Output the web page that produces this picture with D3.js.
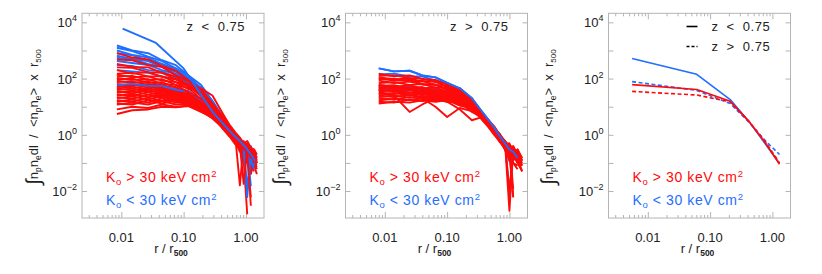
<!DOCTYPE html>
<html><head><meta charset="utf-8">
<script src="https://cdn.jsdelivr.net/npm/d3@7"></script>
<style>
body{margin:0;background:#fff}
text{font-family:"Liberation Sans",Arial,Helvetica,sans-serif}
</style>
</head><body>
<svg id="c" width="822" height="274"></svg>
<script>
// ---------- tick labels ----------
const xTicks = [0.01, 0.1, 1];
const xTickLabels = ["0.01", "0.10", "1.00"];
const yLabelTicks = [1e-2, 1, 1e2, 1e4];
const yLabelExps = ["\u22122", "0", "2", "4"];
const yDecadeTicks = [1e-2, 1e-1, 1, 1e1, 1e2, 1e3, 1e4];

// ---------- panel 1 : z < 0.75 ----------
const p1Radii = [0.0085, 0.015, 0.027, 0.045, 0.075, 0.12, 0.19, 0.29, 0.42, 0.55, 0.68, 0.8, 0.92, 1.05, 1.2, 1.35, 1.5];
const p1Red = [
 [800, 560, 480, 280, 190, 85, 42, 13, 4.6, 2.0, 1.1, 0.7, 0.45, 0.5, 0.25, 0.3, null],
 [480, 450, 300, 260, 130, 80, 30, 12, 4.0, 1.8, 0.9, 0.5, 0.6, 0.3, 0.35, 0.15, null],
 [330, 260, 250, 160, 120, 55, 33, 10, 3.5, 1.6, 1.0, 0.55, 0.35, 0.4, 0.2, 0.25, 0.12],
 [250, 240, 170, 160, 95, 62, 25, 11, 3.3, 1.7, 0.8, 0.6, 0.4, 0.2, 0.3, 0.1, null],
 [200, 150, 170, 115, 95, 50, 30, 9, 3.7, 1.5, 0.9, 0.45, 0.5, 0.3, 0.2, 0.15, 0.1],
 [150, 160, 120, 120, 75, 55, 24, 10, 3.2, 1.6, 0.85, 0.5, 0.3, 0.35, 0.15, 0.2, null],
 [140, 110, 120, 85, 75, 42, 45, 25, 6, 2.2, 1.2, 0.8, 0.5, 0.6, 0.35, 0.3, 0.2],
 [120, 125, 90, 95, 60, 45, 19, 9, 3.0, 1.5, 0.7, 0.4, 0.018, 0.35, 0.25, 0.12, null],
 [105, 90, 95, 65, 60, 32, 20, 7, 3.1, 1.4, 0.9, 0.6, 0.4, 0.25, 0.003, null, null],
 [95, 100, 70, 75, 48, 36, 15, 7.5, 2.7, 1.3, 0.6, 0.45, 0.3, 0.2, 0.15, 0.1, 0.08],
 [85, 70, 80, 55, 50, 27, 17, 6.5, 2.9, 1.5, 0.95, 0.7, 0.5, 0.4, 0.25, 0.3, 0.15],
 [75, 80, 60, 62, 38, 30, 14, 7, 2.5, 1.2, 0.7, 0.35, 0.4, 0.15, 0.2, 0.08, null],
 [65, 55, 64, 45, 42, 24, 15.5, 5.8, 2.6, 1.4, 0.8, 0.5, 0.35, 0.3, 0.12, 0.2, 0.1],
 [60, 62, 48, 50, 32, 27, 12.5, 6.5, 2.3, 1.1, 0.6, 0.3, 0.25, 0.12, 0.1, null, null],
 [55, 45, 55, 40, 38, 21, 14, 5.5, 2.6, 1.3, 0.7, 0.016, 0.5, 0.3, 0.2, 0.15, 0.1],
 [50, 52, 40, 44, 28, 24, 11, 6, 2.2, 1.2, 0.75, 0.45, 0.3, 0.25, 0.15, 0.1, 0.06],
 [45, 38, 46, 34, 33, 18, 13, 5.2, 2.5, 1.4, 0.85, 0.6, 0.4, 0.45, 0.25, 0.2, null],
 [40, 44, 33, 38, 24, 22, 10, 5.8, 2.1, 1.1, 0.6, 0.35, 0.15, 0.1, 0.05, 0.15, null],
 [36, 30, 40, 28, 29, 16, 12, 5, 2.4, 1.2, 0.7, 0.5, 0.3, 0.22, 0.12, 0.08, 0.04],
 [32, 36, 27, 33, 21, 20, 9.5, 5.5, 2.0, 1.0, 0.55, 0.4, 0.3, 0.35, 0.25, 0.12, null],
 [28, 24, 33, 24, 26, 14, 11.5, 4.6, 2.3, 1.2, 0.8, 0.5, 0.25, 0.18, 0.006, null, null],
 [25, 29, 22, 28, 18, 18, 9, 5.2, 1.9, 1.0, 0.5, 0.3, 0.35, 0.2, 0.1, 0.09, 0.07],
 [22, 19, 27, 20, 23, 13, 11, 4.4, 2.2, 1.1, 0.6, 0.45, 0.3, 0.3, 0.15, 0.1, 0.09],
 [20, 23, 18, 24, 16, 16.5, 8.5, 5, 1.9, 0.95, 0.55, 0.25, 0.2, 0.14, 0.2, 0.1, null],
 [17, 15, 21, 16, 20, 12, 10, 4.2, 2.1, 1.0, 0.5, 0.35, 0.2, 0.2, 0.08, 0.05, null],
 [15, 18, 14, 20, 14, 15, 8, 4.8, 1.8, 0.9, 0.6, 0.4, 0.3, 0.25, 0.14, 0.12, null],
 [13, 12, 17, 13, 17, 11, 9.5, 4, 2.0, 1.0, 0.5, 0.3, 0.16, 0.12, 0.1, 0.06, null],
 [12, 14, 12, 16, 12, 13, 7.5, 4.5, 1.7, 0.85, 0.45, 0.35, 0.22, 0.3, 0.04, 0.12, null],
 [8, 10, 9, 12, 10, 11, 7, 3.8, 1.8, 0.9, 0.5, 0.35, 0.2, 0.1, 0.06, null, null],
 [5.5, 7.5, 8, 10, 9.5, 10.5, 6.5, 4.2, 1.9, 0.95, 0.55, 0.4, 0.12, 0.0015, null, null, null]
];
const p1Blue = [
 [1500, 1000, 800, 450, 300, 130, 60, 16, 4.8, 2.1, 1.1, 0.7, 0.5, 0.4, 0.3, 0.2, null],
 [1250, 950, 600, 420, 230, 125, 45, 16, 4.2, 1.8, 0.9, 0.55, 0.3, 0.006, 0.25, 0.3, null],
 [1000, 700, 560, 330, 220, 100, 48, 13, 4.0, 1.9, 1.0, 0.6, 0.45, 0.35, 0.25, 0.15, 0.1],
 [800, 680, 430, 330, 180, 105, 38, 14.5, 3.8, 1.7, 0.8, 0.5, 0.35, 0.2, 0.4, 0.08, null],
 [650, 500, 420, 260, 175, 85, 40, 12, 4.1, 1.8, 1.0, 0.6, 0.4, 0.012, 0.3, 0.2, null],
 [550, 480, 330, 260, 145, 90, 33, 13, 3.6, 1.6, 0.85, 0.5, 0.3, 0.25, 0.15, 0.1, null],
 [420, 360, 300, 200, 145, 72, 36, 11, 3.7, 1.7, 0.9, 0.65, 0.5, 0.35, 0.3, 0.2, 0.18],
 [300, 280, 200, 180, 110, 70, 28, 11.5, 3.4, 1.6, 0.8, 0.45, 0.3, 0.2, 0.1, 0.3, null],
 [200, 180, 160, 120, 95, 52, 30, 9.5, 3.5, 1.5, 0.9, 0.6, 0.4, 0.3, 0.015, null, null],
 [60, 65, 55, 55, 40, 34, 18, 9, 3.1, 1.6, 0.85, 0.5, 0.35, 0.28, 0.12, 0.06, null]
];
const p1BlueTopRadii = [0.0105, 0.036, 0.1, 0.14, 0.2, 0.3, 0.45, 0.6, 0.8, 1.0, 1.2, 1.4];
const p1BlueTop = [6000, 1850, 230, 75, 22, 6, 2.2, 1.1, 0.6, 0.35, 0.2, 0.12];

// ---------- panel 2 : z > 0.75 ----------
const p2Radii = [0.008, 0.014, 0.025, 0.04, 0.065, 0.1, 0.16, 0.25, 0.35, 0.45, 0.57, 0.7, 0.85, 1.0, 1.15, 1.35, 1.6];
const p2Red = [
 [150, 120, 130, 95, 90, 60, 45, 18, 7, 3.6, 2.0, 1.0, 0.6, 0.35, 0.4, 0.2, null],
 [125, 130, 105, 100, 75, 65, 36, 20, 6.5, 3.3, 1.8, 0.8, 0.45, 0.5, 0.25, 0.3, 0.15],
 [110, 95, 100, 80, 78, 50, 38, 15, 6.8, 3.5, 1.6, 1.1, 0.5, 0.002, 0.3, 0.2, null],
 [100, 85, 90, 65, 62, 40, 26, 14, 5.8, 3.0, 1.5, 0.95, 0.55, 0.4, 0.3, 0.2, null],
 [95, 100, 80, 82, 60, 55, 30, 17, 6, 3.1, 1.7, 0.9, 0.4, 0.3, 0.12, 0.2, 0.08],
 [85, 70, 78, 62, 60, 42, 33, 13, 6.3, 3.4, 1.5, 0.7, 0.55, 0.25, 0.006, null, null],
 [70, 75, 60, 64, 48, 46, 26, 15, 5.6, 2.9, 1.9, 1.0, 0.6, 0.4, 0.35, 0.15, 0.1],
 [60, 50, 58, 45, 48, 34, 29, 11.5, 6, 3.1, 1.4, 0.8, 0.35, 0.2, 0.25, 0.1, null],
 [60, 50, 40, 30, 22, 15, 8, 3.3, 4.2, 2.5, 1.3, 0.7, 0.45, 0.3, 0.2, 0.15, 0.05],
 [55, 58, 45, 50, 36, 38, 22, 13, 5.2, 2.8, 1.6, 0.9, 0.5, 0.01, 0.3, 0.2, null],
 [50, 42, 48, 38, 40, 28, 25, 10, 5.6, 3.0, 1.5, 0.6, 0.4, 0.35, 0.2, 0.3, 0.12],
 [45, 48, 38, 42, 30, 32, 19, 12, 4.8, 2.6, 1.4, 0.85, 0.3, 0.12, 0.2, null, null],
 [40, 35, 28, 20, 10, 4.3, 9, 7, 4.4, 2.7, 1.5, 0.75, 0.5, 0.3, 0.25, 0.12, 0.08],
 [40, 36, 40, 32, 34, 24, 21, 9.5, 5.2, 2.7, 1.3, 0.9, 0.5, 0.45, 0.3, 0.15, null],
 [35, 38, 31, 35, 26, 28, 16, 11, 4.4, 2.4, 1.2, 0.6, 0.4, 0.18, 0.1, 0.06, null],
 [32, 28, 33, 26, 29, 21, 18, 8.5, 5.0, 2.6, 1.6, 0.8, 0.45, 0.3, 0.35, 0.2, 0.15],
 [30, 25, 6.5, 12, 20, 22, 16, 8, 4.6, 2.5, 1.3, 0.7, 0.35, 0.25, 0.006, null, null],
 [28, 31, 25, 29, 22, 24, 14, 10, 4.2, 2.3, 1.2, 0.65, 0.4, 0.3, 0.2, 0.1, null],
 [25, 22, 27, 22, 24, 18, 16, 7.5, 4.8, 2.5, 1.4, 0.9, 0.55, 0.35, 0.3, 0.25, 0.12],
 [22, 25, 21, 24, 19, 21, 13, 9.5, 4.0, 2.2, 1.1, 0.6, 0.3, 0.2, 0.12, null, null],
 [20, 18, 22, 19, 21, 16, 15, 7, 4.5, 2.4, 1.3, 0.7, 0.4, 0.25, 0.2, 0.1, 0.05],
 [17, 19, 17, 20, 17, 19, 12, 9, 3.9, 2.1, 1.2, 0.8, 0.45, 0.4, 0.012, null, null],
 [15, 14, 18, 16, 18, 15, 14, 6.5, 4.3, 2.3, 1.1, 0.55, 0.35, 0.3, 0.2, 0.15, 0.1],
 [13, 15, 14, 17, 15, 17, 11, 8.5, 3.8, 2.0, 1.0, 0.6, 0.3, 0.15, 0.1, 0.08, null]
];
const p2Blue = [
 [230, 180, 190, 130, 110, 70, 45, 20, 7.5, 3.6, 1.8, 0.9, 0.5, 0.3, 0.25, 0.15, null],
 [140, 150, 120, 120, 85, 70, 38, 18, 6.6, 3.3, 1.6, 0.8, 0.6, 0.007, 0.3, 0.2, null],
 [55, 48, 52, 45, 42, 36, 27, 13, 5.6, 3.0, 1.5, 0.9, 0.45, 0.35, 0.2, 0.12, null],
 [48, 50, 42, 44, 35, 32, 21, 11, 4.8, 2.6, 1.3, 0.7, 0.5, 0.12, 0.25, null, null],
 [42, 38, 40, 34, 32, 26, 19, 9, 4.6, 2.5, 1.4, 0.8, 0.4, 0.3, 0.2, 0.1, null],
 [38, 40, 32, 30, 25, 21, 14, 7.5, 4.0, 2.3, 1.2, 0.75, 0.55, 0.4, 0.3, 0.2, null]
];

// ---------- panel 3 : mean profiles ----------
const p3Radii = [0.0056, 0.061, 0.21, 0.42, 0.78, 1.3];
const p3RedLowZ  = [61, 41, 15.5, 3.0, 0.5, 0.09];
const p3RedHighZ = [35, 26, 15, 3.0, 0.55, 0.1];
const p3BlueLowZ  = [515, 142, 18, 3.0, 0.45, 0.095];
const p3BlueHighZ = [78, 38, 13, 2.8, 0.6, 0.2];

// ---------- texts ----------
const legendSigns = [">", "<"];
const zLabels = ["z < 0.75", "z > 0.75"];
const xTitleSubs = ["500", "500", "500"];

const RED = "#ff0a0a", BLUE = "#1f6eff";
const FRAME = "#b4b4b4", TXT = "#222";

const svg = d3.select("#c");
const PW = 182, YT = 13.3, YB = 218;

function makePanel(left, ylabX, ylabY, xsub) {
  const g = svg.append("g");
  const x = d3.scaleLog().domain([0.00234, 1.95]).range([left, left + PW]);
  const y = d3.scaleLog().domain([1.1e-3, 2.1e4]).range([YB, YT]);
  const id = "clip" + Math.round(left);
  svg.append("clipPath").attr("id", id).append("rect")
    .attr("x", left).attr("y", YT).attr("width", PW).attr("height", YB - YT);

  const minor = [];
  for (let d = -3; d <= 0; d++) for (let k = 2; k <= 9; k++) {
    const v = k * Math.pow(10, d);
    if (v > x.domain()[0] && v < x.domain()[1]) minor.push(v);
  }
  const styleAxis = a => { a.select(".domain").remove(); a.selectAll("line").attr("stroke", FRAME); a.selectAll("text").remove(); };
  g.append("g").attr("transform", `translate(0,${YB})`).call(d3.axisBottom(x).tickValues(xTicks).tickSize(-6)).call(styleAxis);
  g.append("g").attr("transform", `translate(0,${YB})`).call(d3.axisBottom(x).tickValues(minor).tickSize(-3)).call(styleAxis);
  g.append("g").attr("transform", `translate(0,${YT})`).call(d3.axisTop(x).tickValues(xTicks).tickSize(-6)).call(styleAxis);
  g.append("g").attr("transform", `translate(0,${YT})`).call(d3.axisTop(x).tickValues(minor).tickSize(-3)).call(styleAxis);
  g.append("g").attr("transform", `translate(${left},0)`).call(d3.axisLeft(y).tickValues(yDecadeTicks).tickSize(-5)).call(styleAxis);
  g.append("g").attr("transform", `translate(${left + PW},0)`).call(d3.axisRight(y).tickValues(yDecadeTicks).tickSize(-5)).call(styleAxis);

  g.append("rect").attr("x", left).attr("y", YT).attr("width", PW).attr("height", YB - YT)
    .attr("fill", "none").attr("stroke", FRAME).attr("stroke-width", 1);

  xTicks.forEach((v, i) => {
    g.append("text").attr("x", x(v)).attr("y", 242).attr("text-anchor", "middle")
      .attr("font-size", 13).attr("fill", TXT).text(xTickLabels[i]);
  });
  yLabelTicks.forEach((v, i) => {
    const t = g.append("text").attr("x", left - 5).attr("y", y(v) + 5).attr("text-anchor", "end")
      .attr("font-size", 13).attr("fill", TXT);
    t.append("tspan").text("10");
    t.append("tspan").attr("dy", -6).attr("font-size", 9).text(yLabelExps[i]);
  });
  const xt = g.append("text").attr("x", left + PW / 2 - 2).attr("y", 253).attr("text-anchor", "middle")
    .attr("font-size", 13).attr("fill", TXT);
  xt.append("tspan").text("r / r");
  xt.append("tspan").attr("dy", 3).attr("font-size", 8.5).attr("font-weight", "bold").text(xsub);

  const yt = g.append("text").attr("transform", `translate(${ylabX},${ylabY}) rotate(-90)`)
    .attr("text-anchor", "middle").attr("font-size", 13).attr("fill", TXT).style("white-space", "pre");
  const parts = [["\u222b", 2, 20], ["n", 0, 13], ["p", 3, 8.5], ["n", 0, 13], ["e", 3, 8.5],
    ["dl  /  <n", 0, 13], ["p", 3, 8.5], ["n", 0, 13], ["e", 3, 8.5], [">  x  r", 0, 13], ["500", 3, 8]];
  let cur = 0;
  parts.forEach(([s, off, fs]) => {
    yt.append("tspan").attr("dy", off - cur).attr("font-size", fs).text(s);
    cur = off;
  });

  const plot = g.append("g").attr("clip-path", `url(#${id})`);
  return { x, y, plot };
}

function drawLines(P, radii, series, color, width, dash) {
  const line = d3.line().defined(d => d[1] != null).x(d => P.x(d[0])).y(d => P.y(d[1]));
  series.forEach(s => {
    P.plot.append("path").datum(radii.map((r, i) => [r, s[i]]))
      .attr("d", line).attr("fill", "none").attr("stroke", color)
      .attr("stroke-width", width).attr("stroke-linejoin", "round")
      .attr("stroke-dasharray", dash || null);
  });
}

function kLegend(left) {
  [[legendSigns[0], RED, 182], [legendSigns[1], BLUE, 204.5]].forEach(([sign, c, yy]) => {
    const t = svg.append("text").attr("x", left + 24).attr("y", yy).attr("font-size", 14)
      .attr("fill", c).style("white-space", "pre").style("letter-spacing", "0.6px");
    t.append("tspan").text("K");
    t.append("tspan").attr("dy", 3).attr("font-size", 9.5).text("o");
    t.append("tspan").attr("dy", -3).text(" " + sign + " 30 keV cm");
    t.append("tspan").attr("dy", -5).attr("font-size", 9.5).text("2");
  });
}

// ---------- panel 1 ----------
const P1 = makePanel(82, 38, 117, xTitleSubs[0]);
drawLines(P1, p1Radii, p1Red.slice(9), RED, 1.9);
drawLines(P1, p1Radii, p1Blue, BLUE, 1.9);
drawLines(P1, p1Radii, p1Red.slice(0, 9), RED, 1.9);
drawLines(P1, p1BlueTopRadii, [p1BlueTop], BLUE, 1.9);
svg.append("text").attr("x", 245).attr("y", 30.5).attr("text-anchor", "end").attr("font-size", 13)
  .attr("fill", TXT).style("word-spacing", "4px").style("letter-spacing", "0.5px").text(zLabels[0]);
kLegend(82);

// ---------- panel 2 ----------
const P2 = makePanel(345.5, 285, 117, xTitleSubs[1]);
drawLines(P2, p2Radii, p2Blue, BLUE, 1.9);
drawLines(P2, p2Radii, p2Red, RED, 1.9);
drawLines(P2, p2Radii, [p2Blue[0]], BLUE, 1.9);
svg.append("text").attr("x", 508.5).attr("y", 30.5).attr("text-anchor", "end").attr("font-size", 13)
  .attr("fill", TXT).style("word-spacing", "4px").style("letter-spacing", "0.5px").text(zLabels[1]);
kLegend(345.5);

// ---------- panel 3 ----------
const P3 = makePanel(608.5, 553, 117, xTitleSubs[2]);
drawLines(P3, p3Radii, [p3BlueHighZ], BLUE, 1.6, "4,2.5");
drawLines(P3, p3Radii, [p3BlueLowZ], BLUE, 1.6);
drawLines(P3, p3Radii, [p3RedHighZ], RED, 1.6, "4,2.5");
drawLines(P3, p3Radii, [p3RedLowZ], RED, 1.6);
[[zLabels[0], null, 30.5], [zLabels[1], "3,2", 50.5]].forEach(([s, dash, yy]) => {
  svg.append("line").attr("x1", 686.5).attr("x2", 697.5).attr("y1", yy - 4).attr("y2", yy - 4)
    .attr("stroke", "#000").attr("stroke-width", 1.6).attr("stroke-dasharray", dash);
  svg.append("text").attr("x", 711.5).attr("y", yy).attr("font-size", 13).attr("fill", TXT)
    .style("word-spacing", "4px").style("letter-spacing", "0.5px").text(s);
});
kLegend(608.5);
</script>
</body></html>
